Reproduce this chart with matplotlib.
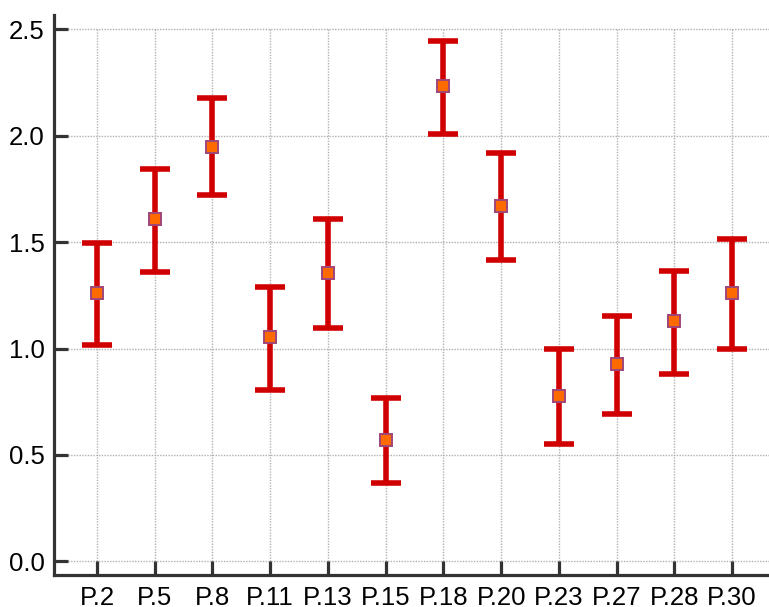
import matplotlib
matplotlib.use("Agg")
import matplotlib.pyplot as plt
import numpy as np

categories = ["P.2", "P.5", "P.8", "P.11", "P.13", "P.15", "P.18", "P.20", "P.23", "P.27", "P.28", "P.30"]
means = [1.259, 1.607, 1.945, 1.053, 1.353, 0.569, 2.234, 1.671, 0.778, 0.927, 1.131, 1.259]
upper = [1.494, 1.842, 2.176, 1.288, 1.607, 0.766, 2.446, 1.919, 0.998, 1.153, 1.364, 1.513]
lower = [1.015, 1.358, 1.720, 0.804, 1.095, 0.367, 2.007, 1.417, 0.551, 0.694, 0.882, 0.998]
yticks = [0.0, 0.5, 1.0, 1.5, 2.0, 2.5]

plt.rcParams['font.family'] = ['Liberation Sans', 'DejaVu Sans']

fig = plt.figure(figsize=(7.69, 6.07), dpi=100)
ax = fig.add_axes([54/769, 32/607, 1 - 54/769, 560/607])

x = np.arange(len(categories))
m = np.array(means)
err = np.vstack([m - np.array(lower), np.array(upper) - m])

ax.set_xlim(-0.745, 11.64)
ax.set_ylim(-0.064, 2.567)

# grid
for yt in yticks:
    ax.axhline(yt, color='#b0b0b0', linestyle=(0, (1, 1)), linewidth=1.0, zorder=0)
ax.vlines(x, -0.064, max(yticks), color='#b0b0b0', linestyles=[(0, (1, 1))], linewidth=1.0, zorder=0)

ax.errorbar(x, m, yerr=err, fmt='none', ecolor='#d00000', elinewidth=4.0,
            capsize=11, capthick=4.0, zorder=2)
ax.plot(x, m, linestyle='none', marker='s', markersize=8,
        markerfacecolor='#ff6a00', markeredgecolor='#a0457a', markeredgewidth=1.4, zorder=3)

ax.set_xticks(x)
ax.set_xticklabels(categories)
ax.set_yticks(yticks)
ax.set_yticklabels([f"{v:.1f}" for v in yticks])

for s in ['top', 'right']:
    ax.spines[s].set_visible(False)
for s in ['left', 'bottom']:
    ax.spines[s].set_color('#333333')
    ax.spines[s].set_linewidth(2.3)

ax.tick_params(axis='both', direction='in', length=10, width=2.3, color='#333333',
               labelsize=18.5, labelcolor='#000000')
ax.tick_params(axis='y', pad=6.5)
ax.tick_params(axis='x', pad=8)

fig.savefig("out.png", dpi=100)
